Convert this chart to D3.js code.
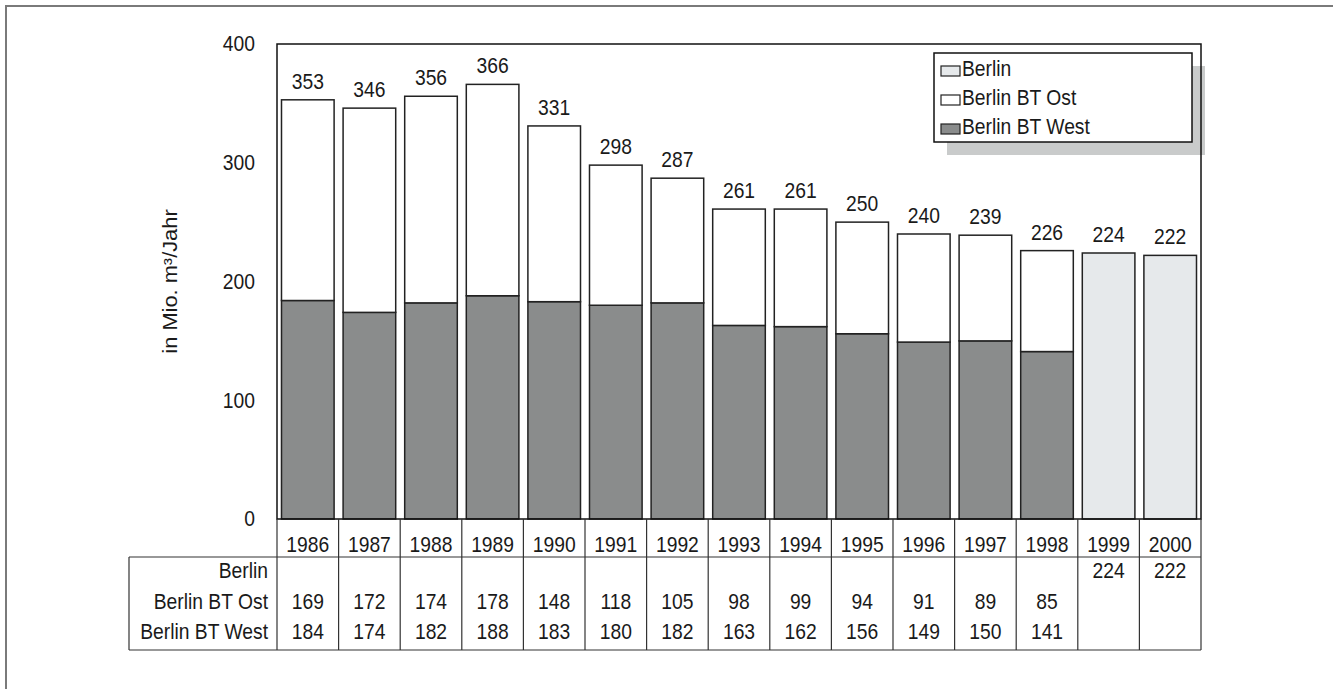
<!DOCTYPE html>
<html>
<head>
<meta charset="utf-8">
<script src="https://cdn.jsdelivr.net/npm/d3@7"></script>
<style>
  body { margin: 0; background: #fff; }
  svg text { font-family: "Liberation Sans", Arial, sans-serif; fill: #1a1a1a; }
</style>
</head>
<body>
<svg id="chart"></svg>
<script>
// data
let years = ["1986", "1987", "1988", "1989", "1990", "1991", "1992", "1993", "1994", "1995", "1996", "1997", "1998", "1999", "2000"];
let berlin = [null, null, null, null, null, null, null, null, null, null, null, null, null, 224, 222];
let berlinOst = [169, 172, 174, 178, 148, 118, 105, 98, 99, 94, 91, 89, 85, null, null];
let berlinWest = [184, 174, 182, 188, 183, 180, 182, 163, 162, 156, 149, 150, 141, null, null];
let yTicks = [0, 100, 200, 300, 400];
let seriesNames = ["Berlin", "Berlin BT Ost", "Berlin BT West"];
let seriesColors = ["#e6e9eb", "#ffffff", "#8a8c8c"];

const W = 1333, H = 689;
const plotLeft = 277, plotRight = 1201, plotTop = 44, plotBottom = 519;
const tableLeft = 129, yearRowBottom = 557, tableBottom = 650;
const fontSize = 19.3;
const stretch = 1.1; // text in the original is a bit taller than wide

let svg = d3.select("#chart").attr("width", W).attr("height", H);

// text at a baseline point, stretched vertically like the original
function label(parent, tx, ty, str, anchor) {
  return parent.append("text")
    .attr("transform", "translate(" + tx + "," + ty + ") scale(1," + stretch + ")")
    .attr("text-anchor", anchor || "middle")
    .attr("font-size", fontSize)
    .text(str);
}

// outer frame (runs off the page at right and bottom)
svg.append("path")
  .attr("d", "M6," + H + " L6,6 L" + W + ",6")
  .attr("fill", "none")
  .attr("stroke", "#7a7a7a")
  .attr("stroke-width", 2);

let x = d3.scaleBand().domain(years).range([plotLeft, plotRight]).paddingInner(0.146).paddingOuter(0.073);
let y = d3.scaleLinear().domain([0, 400]).range([plotBottom, plotTop]);

// y axis labels (no tick marks)
let yAxis = svg.append("g")
  .attr("transform", "translate(" + plotLeft + ",0)")
  .call(d3.axisLeft(y).tickValues(yTicks).tickSize(0).tickPadding(22));
yAxis.select(".domain").remove();
yAxis.selectAll("text")
  .attr("font-size", fontSize).attr("font-family", null)
  .attr("transform", "scale(1," + stretch + ")");

svg.append("text")
  .attr("transform", "translate(177," + ((plotTop + plotBottom) / 2) + ") rotate(-90) scale(1.12,1)")
  .attr("text-anchor", "middle")
  .attr("font-size", 19.5)
  .text("in Mio. m³/Jahr");

// bars
let bars = svg.append("g");
years.forEach((yr, i) => {
  if (berlinWest[i] != null) {
    bars.append("rect")
      .attr("x", x(yr)).attr("width", x.bandwidth())
      .attr("y", y(berlinWest[i])).attr("height", y(0) - y(berlinWest[i]))
      .attr("fill", seriesColors[2]).attr("stroke", "#222").attr("stroke-width", 1.5);
  }
  if (berlinOst[i] != null) {
    let base = berlinWest[i] || 0;
    bars.append("rect")
      .attr("x", x(yr)).attr("width", x.bandwidth())
      .attr("y", y(base + berlinOst[i])).attr("height", y(base) - y(base + berlinOst[i]))
      .attr("fill", seriesColors[1]).attr("stroke", "#222").attr("stroke-width", 1.5);
  }
  if (berlin[i] != null) {
    bars.append("rect")
      .attr("x", x(yr)).attr("width", x.bandwidth())
      .attr("y", y(berlin[i])).attr("height", y(0) - y(berlin[i]))
      .attr("fill", seriesColors[0]).attr("stroke", "#222").attr("stroke-width", 1.5);
  }
});

// totals above bars
years.forEach((yr, i) => {
  let total = (berlin[i] || 0) + (berlinOst[i] || 0) + (berlinWest[i] || 0);
  label(svg, x(yr) + x.bandwidth() / 2, y(total) - 11, total);
});

// legend with shadow
const lgX = 934, lgY = 53, lgW = 258, lgH = 89;
svg.append("rect")
  .attr("x", lgX + 13).attr("y", lgY + 13).attr("width", lgW).attr("height", lgH)
  .attr("fill", "#c9cbcb");

// plot frame
svg.append("rect")
  .attr("x", plotLeft).attr("y", plotTop).attr("width", plotRight - plotLeft).attr("height", plotBottom - plotTop)
  .attr("fill", "none").attr("stroke", "#111").attr("stroke-width", 1.5);

svg.append("rect")
  .attr("x", lgX).attr("y", lgY).attr("width", lgW).attr("height", lgH)
  .attr("fill", "#fff").attr("stroke", "#111").attr("stroke-width", 1.5);

seriesNames.forEach((name, i) => {
  let base = 76 + i * 29;
  svg.append("rect")
    .attr("x", lgX + 7).attr("y", base - 10).attr("width", 19).attr("height", 10)
    .attr("fill", seriesColors[i]).attr("stroke", "#222").attr("stroke-width", 1.2);
  label(svg, lgX + 28, base, name, "start");
});

// data table
let table = svg.append("g").attr("stroke", "#333").attr("stroke-width", 1.2).attr("fill", "none");
let bounds = years.map(yr => x(yr) - x.step() * x.paddingInner() / 2).concat([plotRight]);
bounds.forEach((bx) => {
  table.append("line")
    .attr("x1", bx).attr("x2", bx)
    .attr("y1", plotBottom).attr("y2", tableBottom);
});
table.append("line").attr("x1", tableLeft).attr("x2", plotRight).attr("y1", yearRowBottom).attr("y2", yearRowBottom);
table.append("line").attr("x1", tableLeft).attr("x2", plotRight).attr("y1", tableBottom).attr("y2", tableBottom);
table.append("line").attr("x1", tableLeft).attr("x2", tableLeft).attr("y1", yearRowBottom).attr("y2", tableBottom);

years.forEach((yr) => {
  label(svg, x(yr) + x.bandwidth() / 2, 552, yr);
});

let rows = [berlin, berlinOst, berlinWest];
rows.forEach((row, r) => {
  let base = 578 + r * 30.5;
  label(svg, 268, base, seriesNames[r], "end");
  row.forEach((v, i) => {
    if (v == null) return;
    label(svg, x(years[i]) + x.bandwidth() / 2, base, v);
  });
});
</script>
</body>
</html>
